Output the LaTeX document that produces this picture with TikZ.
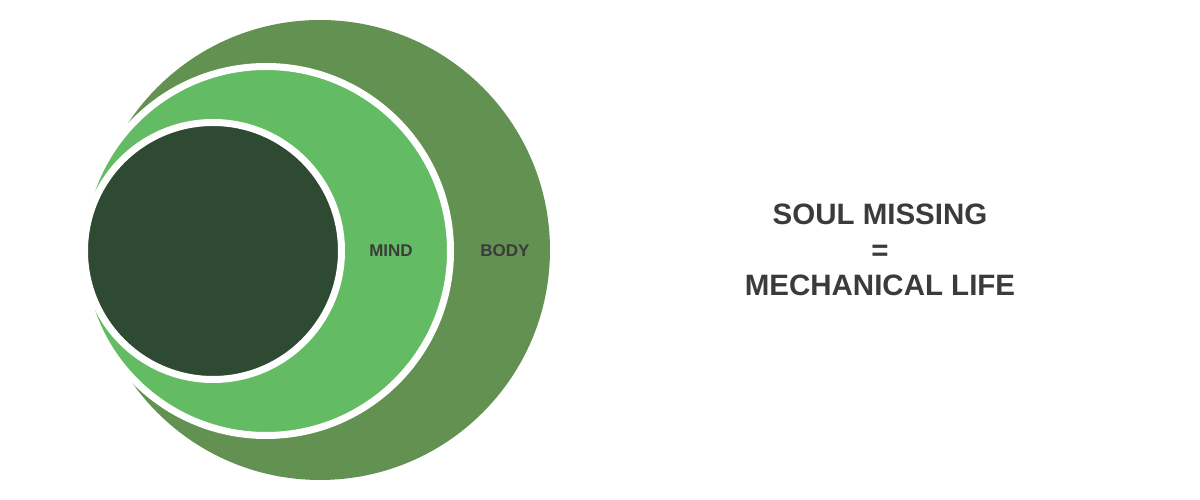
\documentclass[tikz,border=0pt]{standalone}
\usepackage{fontspec}
\setmainfont{Liberation Sans}
\usepackage{tikz}
\usetikzlibrary{positioning}

\definecolor{bodygreen}{HTML}{629152}
\definecolor{mindgreen}{HTML}{63BC63}
\definecolor{souldark}{HTML}{2F4A33}
\definecolor{labelgray}{HTML}{3B3B3B}

\begin{document}
\begin{tikzpicture}[x=1pt, y=1pt]
    \useasboundingbox (0,0) rectangle (1200,500);

    \begin{scope}[every node/.style={circle, inner sep=0pt}]
        \node (body) [fill=bodygreen, minimum size=460pt] at (320,250) {};
        \node (mind) [fill=mindgreen, draw=white, line width=7pt, minimum size=369pt] at (266,249) {};
        \node (core) [fill=souldark, draw=white, line width=7pt, minimum size=257pt] at (213,249) {};
    \end{scope}

    \begin{scope}[every node/.style={text=labelgray, font=\bfseries}]
        \node (mindlabel) [font=\fontsize{17}{20}\selectfont\bfseries] at (391,249) {MIND};
        \node (bodylabel) [font=\fontsize{17}{20}\selectfont\bfseries] at (505,249) {BODY};
        \node (verdict) [align=center, font=\fontsize{29.5}{35.5}\selectfont\bfseries] at (880,250)
            {SOUL MISSING\\=\\MECHANICAL LIFE};
    \end{scope}
\end{tikzpicture}
\end{document}
